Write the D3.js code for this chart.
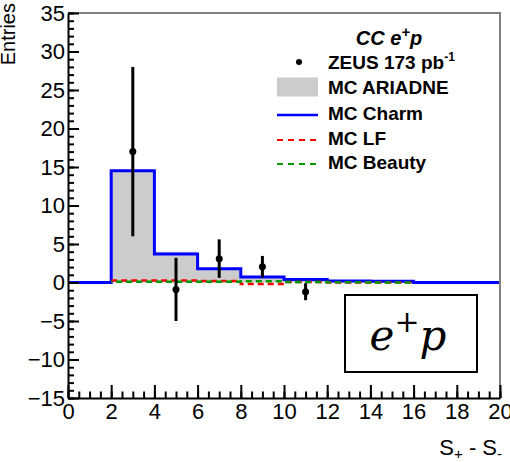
<!DOCTYPE html>
<html>
<head>
<meta charset="utf-8">
<script src="https://cdn.jsdelivr.net/npm/d3@7"></script>
<style>
  body { margin: 0; background: #fff; }
</style>
</head>
<body>
<script>
// histogram bin edges (S+ - S-)
var binEdges = [0, 2, 4, 6, 8, 10, 12, 14, 16, 18, 20];
// MC predictions per bin (null = bin not drawn)
var mcAriadne = [0, 14.5, 4.0, 1.8, 0.7, 0.4, 0.25, 0.15, 0, 0];
var mcCharm   = [0, 14.5, 3.7, 1.8, 0.7, 0.4, 0.2, 0.15, 0, 0];
var mcLF      = [null, 0.25, 0.25, 0.2, -0.2, 0.05, 0.0, 0.0, null, null];
var mcBeauty  = [null, 0.1, 0.1, 0.1, 0.15, 0.05, 0.02, 0.0, null, null];
// ZEUS data points
var dataX   = [3, 5, 7, 9, 11];
var dataY   = [17, -0.9, 3.1, 2.05, -1.2];
var dataErr = [11, 4.1, 2.5, 1.4, 1.1];
// axis ticks
var yTicks = [-15, -10, -5, 0, 5, 10, 15, 20, 25, 30, 35];
var xTicks = [0, 2, 4, 6, 8, 10, 12, 14, 16, 18, 20];
var legendLabels = ["ZEUS 173 pb", "MC ARIADNE", "MC Charm", "MC LF", "MC Beauty"];

var widthSvg = 510, heightSvg = 462;
var marginLeft = 68, marginTop = 13, plotW = 432, plotH = 385;
var sans = "'Liberation Sans', Arial, sans-serif";

var svg = d3.select("body").append("svg")
    .attr("width", widthSvg).attr("height", heightSvg)
    .style("font-family", sans);

var x = d3.scaleLinear().domain([0, 20]).range([marginLeft, marginLeft + plotW]);
var y = d3.scaleLinear().domain([-15, 35]).range([marginTop + plotH, marginTop]);

// turn bin values into step points
function stepPoints(vals) {
  var pts = [];
  vals.forEach(function(v, i) {
    if (v === null) { pts.push(null); return; }
    pts.push([binEdges[i], v]);
    pts.push([binEdges[i + 1], v]);
  });
  return pts;
}

var line = d3.line()
    .defined(function(d) { return d !== null; })
    .x(function(d) { return x(d[0]); })
    .y(function(d) { return y(d[1]); });

var area = d3.area()
    .x(function(d) { return x(d[0]); })
    .y0(y(0))
    .y1(function(d) { return y(d[1]); });

// ARIADNE filled histogram
svg.append("path")
   .datum(stepPoints(mcAriadne))
   .attr("d", area)
   .attr("fill", "#cccccc");

// charm line
svg.append("path")
   .datum(stepPoints(mcCharm))
   .attr("d", line)
   .attr("fill", "none")
   .attr("stroke", "#0000ff")
   .attr("stroke-width", 3);

// LF and beauty dashed
svg.append("path")
   .datum(stepPoints(mcLF))
   .attr("d", line)
   .attr("fill", "none")
   .attr("stroke", "#ff0000")
   .attr("stroke-width", 2.5)
   .attr("stroke-dasharray", "6,4");

svg.append("path")
   .datum(stepPoints(mcBeauty))
   .attr("d", line)
   .attr("fill", "none")
   .attr("stroke", "#009900")
   .attr("stroke-width", 2.5)
   .attr("stroke-dasharray", "6,4")
   .attr("stroke-dashoffset", 5);

// data points with error bars
var pts = svg.append("g");
pts.selectAll("line")
   .data(dataX)
   .enter().append("line")
   .attr("x1", function(d) { return x(d); })
   .attr("x2", function(d) { return x(d); })
   .attr("y1", function(d, i) { return y(dataY[i] - dataErr[i]); })
   .attr("y2", function(d, i) { return y(dataY[i] + dataErr[i]); })
   .attr("stroke", "#000")
   .attr("stroke-width", 3);
pts.selectAll("circle")
   .data(dataX)
   .enter().append("circle")
   .attr("cx", function(d) { return x(d); })
   .attr("cy", function(d, i) { return y(dataY[i]); })
   .attr("r", 3.5)
   .attr("fill", "#000");

// frame top / right
svg.append("path")
   .attr("d", "M" + marginLeft + "," + marginTop + "H" + (marginLeft + plotW) + "V" + (marginTop + plotH))
   .attr("fill", "none")
   .attr("stroke", "#808080")
   .attr("stroke-width", 2);

// y axis: minor then major
svg.append("g")
   .attr("transform", "translate(" + marginLeft + ",0)")
   .call(d3.axisLeft(y).tickValues(d3.range(-15, 36, 1)).tickSize(-6).tickFormat(""))
   .call(function(g) { g.select(".domain").remove(); })
   .selectAll("line").attr("stroke-width", 2);

var yAxis = svg.append("g")
   .attr("transform", "translate(" + marginLeft + ",0)")
   .call(d3.axisLeft(y).tickValues(yTicks).tickSizeInner(-11).tickSizeOuter(0).tickPadding(3));
yAxis.selectAll("line").attr("stroke-width", 2);
yAxis.select(".domain").attr("stroke-width", 2);

// x axis
svg.append("g")
   .attr("transform", "translate(0," + (marginTop + plotH) + ")")
   .call(d3.axisBottom(x).tickValues(d3.range(0, 20.01, 0.5)).tickSize(-6.5).tickFormat(""))
   .call(function(g) { g.select(".domain").remove(); })
   .selectAll("line").attr("stroke-width", 2);

var xAxis = svg.append("g")
   .attr("transform", "translate(0," + (marginTop + plotH) + ")")
   .call(d3.axisBottom(x).tickValues(xTicks).tickSizeInner(-13).tickSizeOuter(0).tickPadding(5));
xAxis.selectAll("line").attr("stroke-width", 2);
xAxis.select(".domain").attr("stroke-width", 2);

svg.selectAll(".tick text")
   .style("font-family", sans)
   .style("font-size", "22px")
   .attr("fill", "#000");

// axis titles
var xt = svg.append("text")
   .attr("x", 502).attr("y", 455)
   .attr("text-anchor", "end")
   .style("font-size", "22px");
xt.append("tspan").text("S");
xt.append("tspan").style("font-size", "15px").attr("dy", 4).text("+");
xt.append("tspan").attr("dy", -4).text(" - S");
xt.append("tspan").style("font-size", "15px").attr("dy", 4).text("-");

svg.append("text")
   .attr("transform", "translate(15,3) rotate(-90)")
   .attr("text-anchor", "end")
   .style("font-size", "20px")
   .text("Entries");

// legend
var lg = svg.append("g").style("font-weight", "bold").style("font-size", "19px");
var head = lg.append("text")
   .attr("x", 389).attr("y", 45)
   .attr("text-anchor", "middle")
   .style("font-style", "italic")
   .style("font-size", "20px");
head.append("tspan").text("CC e");
head.append("tspan").style("font-size", "15px").attr("dy", -8).text("+");
head.append("tspan").attr("dy", 8).text("p");

var rowY = [62, 87, 113, 138, 162];
lg.selectAll("text.lab")
  .data(legendLabels)
  .enter().append("text")
  .attr("class", "lab")
  .attr("x", 328)
  .attr("y", function(d, i) { return rowY[i] + 7; })
  .text(function(d) { return d; });
lg.select("text.lab")
  .append("tspan").style("font-size", "12px").attr("dy", -8).text("-1");

lg.append("circle").attr("cx", 299).attr("cy", rowY[0]).attr("r", 3).attr("fill", "#000");
lg.append("rect").attr("x", 277).attr("y", rowY[1] - 9.5).attr("width", 41).attr("height", 19).attr("fill", "#cccccc");
lg.append("line").attr("x1", 277).attr("x2", 318).attr("y1", rowY[2] + 2).attr("y2", rowY[2] + 2)
  .attr("stroke", "#0000ff").attr("stroke-width", 2.5);
lg.append("line").attr("x1", 277).attr("x2", 318).attr("y1", rowY[3] + 2).attr("y2", rowY[3] + 2)
  .attr("stroke", "#ff0000").attr("stroke-width", 2).attr("stroke-dasharray", "6,5");
lg.append("line").attr("x1", 277).attr("x2", 318).attr("y1", rowY[4] + 2).attr("y2", rowY[4] + 2)
  .attr("stroke", "#009900").attr("stroke-width", 2).attr("stroke-dasharray", "6,5");

// e+p box
svg.append("rect")
   .attr("x", 345).attr("y", 295).attr("width", 132).attr("height", 77)
   .attr("fill", "#fff").attr("stroke", "#000").attr("stroke-width", 2);
var ep = svg.append("text")
   .attr("x", 408).attr("y", 350)
   .attr("text-anchor", "middle")
   .style("font-family", "'DejaVu Serif', 'Liberation Serif', serif")
   .style("font-style", "italic")
   .style("font-size", "42px");
ep.append("tspan").text("e");
ep.append("tspan").style("font-size", "30px").style("font-style", "normal").attr("dy", -18).text("+");
ep.append("tspan").attr("dy", 18).text("p");
</script>
</body>
</html>
